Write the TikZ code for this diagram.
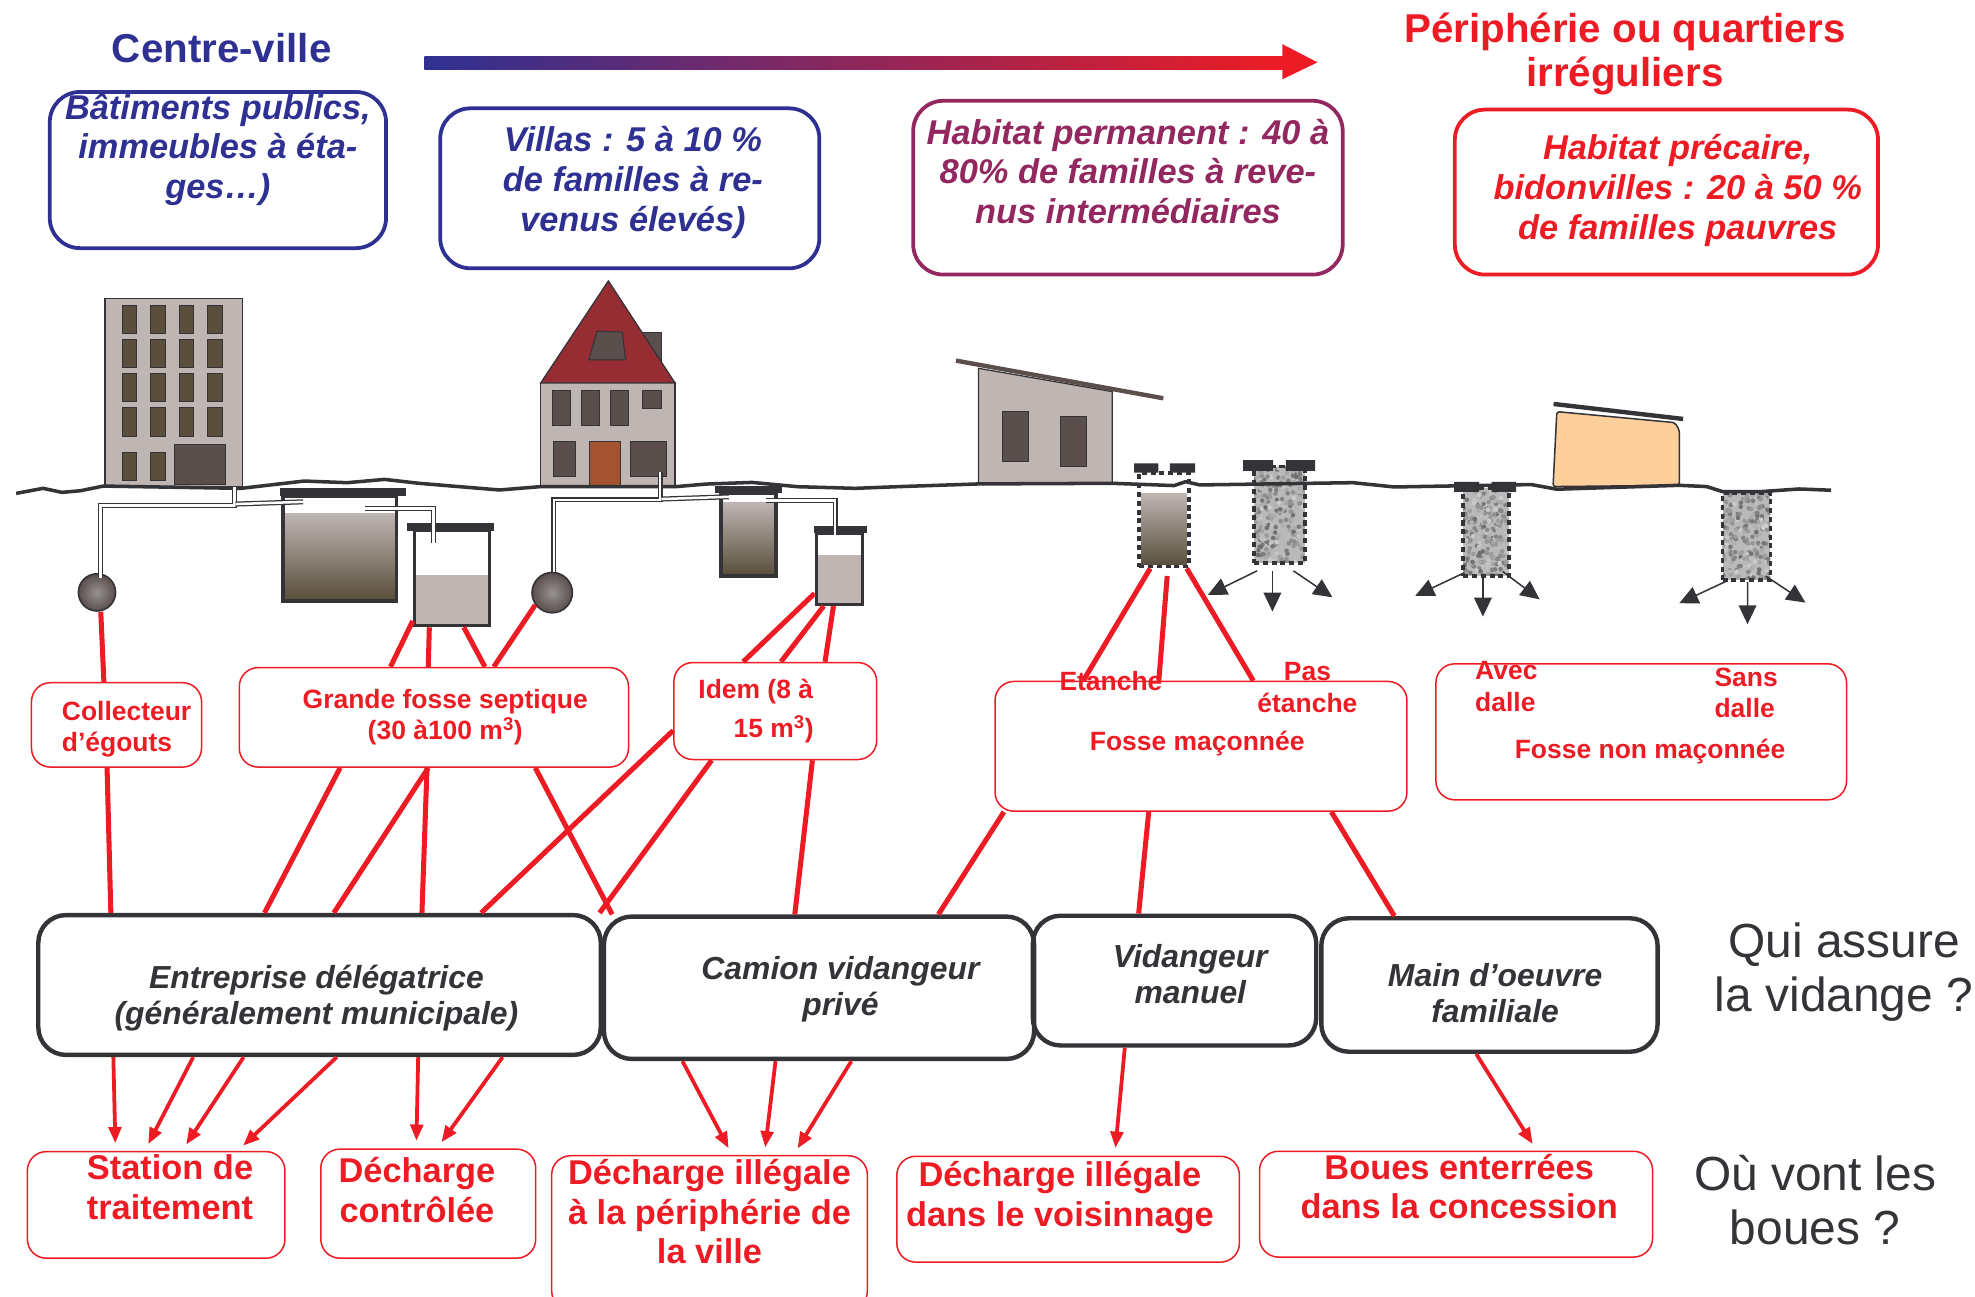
\documentclass[tikz,border=0pt]{standalone}
\usepackage{fontspec}
\setmainfont{Liberation Sans}
\usepackage{xcolor}
\usetikzlibrary{arrows.meta}

\definecolor{townblue}{HTML}{2E3192}
\definecolor{midpurple}{HTML}{93275F}
\definecolor{sludgered}{HTML}{ED1C24}
\definecolor{inkdark}{HTML}{333338}
\definecolor{wallgrey}{HTML}{BFB5B2}
\definecolor{sludgebrown}{HTML}{5A4F3C}
\definecolor{windowgrey}{HTML}{5A4F4C}
\definecolor{hutorange}{HTML}{FDCF9B}
\definecolor{roofred}{HTML}{952D33}
\definecolor{doorbrown}{HTML}{A5522F}

\newcommand{\gravel}[4]{
	\begin{scope}
		\clip (#1,#2) rectangle (#3,#4);
		\fill[gray!55] (#1,#2) rectangle (#3,#4);
		\foreach \i in {1,...,230}{
			\pgfmathsetmacro{\px}{#1+rnd*(#3-#1)}
			\pgfmathsetmacro{\py}{#2+rnd*(#4-#2)}
			\pgfmathsetmacro{\tone}{18+40*rnd}
			\fill[black!\tone!white] (\px,\py) circle (1.8);
		}
	\end{scope}
}

\begin{document}
\begin{tikzpicture}[x=1pt, y=-1pt, inner sep=0pt,
	topbox/.style={draw=#1, text=#1, line width=3pt, rounded corners=24pt, align=center, font=\bfseries\itshape\fontsize{27.3}{31.5}\selectfont},
	labelbox/.style={draw=sludgered, text=sludgered, line width=1.2pt, rounded corners=15pt, align=center, font=\bfseries\fontsize{21}{25}\selectfont},
	sinkbox/.style={labelbox, align=center, font=\bfseries\fontsize{27.3}{31.5}\selectfont},
	actorbox/.style={draw=inkdark, text=inkdark, line width=3.5pt, rounded corners=22pt, align=center, font=\bfseries\itshape\fontsize{25.3}{28.5}\selectfont},
	redtext/.style={text=sludgered, font=\bfseries\fontsize{21}{25}\selectfont},
	asktext/.style={text=inkdark, align=center, font=\fontsize{38}{43}\selectfont},
	redlink/.style={draw=sludgered, line width=4pt},
	redarrow/.style={-{Triangle[length=13pt,width=10pt]}, draw=sludgered, line width=3pt, shorten >=6pt},
	seep/.style={-{Triangle[length=15pt,width=14pt]}, draw=inkdark, line width=1.2pt},
	pipe/.style={draw=inkdark, line width=1pt, double=white, double distance=2pt},
	tankwall/.style={draw=inkdark, line width=2.6pt},
	pitwall/.style={draw=inkdark, line width=3pt, dash pattern=on 4pt off 3pt},
	lid/.style={fill=inkdark},
	pane/.style={fill=windowgrey, draw=inkdark, line width=.8pt},
	wall/.style={fill=wallgrey, draw=inkdark, line width=1pt}]

	\useasboundingbox (0,0) rectangle (1568,1029);

	\node[text=townblue, font=\bfseries\fontsize{32}{35}\selectfont] (centre) at (176,38) {Centre-ville};
	\node[text=sludgered, align=center, font=\bfseries\fontsize{32}{35}\selectfont] (peripherie) at (1290,43) {Périphérie ou quartiers\\irréguliers};
	\shade[left color=townblue, right color=sludgered] (337,44.5) rectangle (1020,54.8);
	\fill[sludgered] (1018,35) -- (1046,49.5) -- (1018,63) -- cycle;

	\node[topbox=townblue, minimum width=267, minimum height=124, text depth=38pt] (batiments) at (173,135) {Bâtiments publics,\\immeubles à éta-\\ges…)};
	\node[topbox=townblue, minimum width=301, minimum height=127, text depth=15pt] (villas) at (500,149.5) {\hspace*{5pt}Villas : 5 à 10 \%\\\hspace*{5pt}de familles à re-\\\hspace*{5pt}venus élevés)};
	\node[topbox=midpurple, minimum width=341, minimum height=138, text depth=26pt] (permanent) at (895.5,149) {Habitat permanent : 40 à\\80\% de familles à reve-\\nus intermédiaires};
	\node[topbox=sludgered, minimum width=336, minimum height=131, text depth=8pt] (precaire) at (1323,152.5) {\hspace*{18pt}Habitat précaire,\\\hspace*{18pt}bidonvilles : 20 à 50 \%\\\hspace*{18pt}de familles pauvres};

	\node[wall, minimum width=109, minimum height=149.5] (tower) at (137.85,311.65) {};
	\draw[pane, fill=sludgebrown]
	(97,242.4) rectangle (108.5,264.7) (119.4,242.4) rectangle (131.2,264.7) (142.2,242.4) rectangle (153.6,264.7) (165,242.4) rectangle (176.4,264.7)
	(97,269.4) rectangle (108.5,291.7) (119.4,269.4) rectangle (131.2,291.7) (142.2,269.4) rectangle (153.6,291.7) (165,269.4) rectangle (176.4,291.7)
	(97,296.7) rectangle (108.5,319) (119.4,296.7) rectangle (131.2,319) (142.2,296.7) rectangle (153.6,319) (165,296.7) rectangle (176.4,319)
	(97,323.9) rectangle (108.5,346.2) (119.4,323.9) rectangle (131.2,346.2) (142.2,323.9) rectangle (153.6,346.2) (165,323.9) rectangle (176.4,346.2)
	(97,358.9) rectangle (108.5,381.1) (119.4,358.9) rectangle (131.2,381.1);
	\draw[pane] (138.5,352.5) rectangle (179.1,385);

	\draw[pane] (510.4,263.9) rectangle (525,290);
	\node[wall, minimum width=106.6, minimum height=83] (house) at (482.6,344.9) {};
	\draw[draw=inkdark, fill=roofred, line width=1pt] (483,223) -- (535.9,304) -- (429.3,304) -- cycle;
	\draw[pane] (474,263) -- (494,263.6) -- (496.7,285.8) -- (467.5,285.8) -- cycle;
	\draw[pane] (438.8,310.2) rectangle (453,338) (461.6,310.2) rectangle (475.8,338) (484.9,310.2) rectangle (499,338) (510.4,310.2) rectangle (525,324.2)
	(439.3,350.4) rectangle (457,378.4) (500.4,350.4) rectangle (529.5,378.4);
	\draw[pane, fill=doorbrown] (468,350.7) rectangle (492.6,386.4);

	\fill[wallgrey, draw=inkdark, line width=1pt] (776.8,292.4) -- (883.1,310.9) -- (883.1,384.2) -- (776.8,384.2) -- cycle;
	\draw[windowgrey, line width=3.5pt] (759,286.3) -- (923.6,316.2);
	\draw[pane] (796,326.5) rectangle (816.3,366) (842,330.8) rectangle (862.3,370.4);

	\draw[fill=hutorange, draw=inkdark, line width=1.2pt, rounded corners=2pt] (1236,326.8) -- (1329.6,335.5) -- (1333.2,341.3) -- (1333.2,385.3) -- (1233,386.3) -- cycle;
	\draw[inkdark, line width=3.5pt] (1233.4,320.7) -- (1336.2,332.6);

	\shade[top color=wallgrey, bottom color=sludgebrown] (226.3,407.3) rectangle (313.3,476);
	\fill[wallgrey] (330.3,456.5) rectangle (387.4,495.4);
	\shade[top color=wallgrey, bottom color=sludgebrown] (573.7,398.8) rectangle (614.8,456);
	\fill[wallgrey] (649.3,440.6) rectangle (683.6,478.5);
	\shade[top color=wallgrey, bottom color=sludgebrown] (905.9,391.6) rectangle (942.3,448.5);
	\pgfmathsetseed{7}
	\gravel{995.5}{370.4}{1036}{446.7}
	\gravel{1161.6}{387.6}{1198}{457.2}
	\gravel{1367.6}{391.6}{1405.6}{460.4}

	\node[tankwall, minimum width=90.2, minimum height=83.4] (tanka) at (269.8,435.5) {};
	\node[tankwall, minimum width=59.7, minimum height=75.4] (tankb) at (358.85,459) {};
	\node[tankwall, minimum width=43.7, minimum height=65.6] (tankd) at (594.25,424.5) {};
	\node[tankwall, minimum width=36.9, minimum height=56.4] (tanke) at (666.45,451.6) {};
	\fill[lid] (221.9,387.7) rectangle (322.6,393.8);
	\fill[lid] (323.5,415.5) rectangle (391.9,421.3);
	\fill[lid] (567.3,385.9) rectangle (620.7,391.2);
	\fill[lid] (646.2,417.6) rectangle (688,423.4);

	\node[pitwall, minimum width=39.5, minimum height=74.1] (etanche) at (924.15,412.75) {};
	\node[pitwall, minimum width=40.5, minimum height=76.3] (pita) at (1015.75,408.55) {};
	\node[pitwall, minimum width=36.4, minimum height=69.6] (pitb) at (1179.8,422.4) {};
	\node[pitwall, minimum width=38, minimum height=68.8] (pitc) at (1386.6,426) {};
	\fill[lid] (900.3,367.8) rectangle (919.6,375.2) (928.7,367.8) rectangle (948.9,375.2);
	\fill[lid] (986.9,365.2) rectangle (1010.7,373.9) (1020.8,365.2) rectangle (1044.1,373.9);
	\fill[lid] (1154.5,382.6) rectangle (1174.2,390.6) (1184.3,382.6) rectangle (1203.6,390.6);

	\draw[inkdark, line width=2.8pt] (12.8,391.7) -- (34.2,387.7) -- (49.2,390.9) -- (63.8,389.6) -- (82,385.9) -- (191.4,387.7) -- (241.5,381.9) -- (275.7,383.2) -- (305.3,380.6) -- (332.7,383.7) -- (396.5,389) -- (428.4,386.4) -- (535.9,386.4) -- (560.5,384.3) -- (597,383) -- (633.4,386.4) -- (679,387.7) -- (714.5,386.3) -- (776.8,384.2) -- (883.1,383.7) -- (932.2,385.5) -- (941.3,382.4) -- (952.5,385) -- (1074,383.2) -- (1106.9,386.6) -- (1215.7,384.7) -- (1236,388.4) -- (1333.2,385.3) -- (1354.9,386.3) -- (1367.6,390.3) -- (1398,390.3) -- (1428.4,388.2) -- (1453.7,389.2);

	\node[circle, draw=inkdark, line width=1.3pt, inner color=gray!65!wallgrey, outer color=windowgrey, minimum size=29.5] (spherea) at (77,470.3) {};
	\node[circle, draw=inkdark, line width=1.3pt, inner color=gray!65!wallgrey, outer color=windowgrey, minimum size=32] (sphereb) at (438.4,470.5) {};

	\draw[pipe] ([xshift=48.15pt]tower.south) -- ++(0,14.6) -| ([xshift=2.7pt,yshift=-4pt]spherea.north);
	\draw[pipe] ([xshift=49pt,yshift=-13.3pt]tower.south) -- ([xshift=-29.2pt,yshift=-5.9pt]tanka.north);
	\draw[pipe] ([xshift=19.6pt,yshift=-11.2pt]tanka.north) -| ([xshift=-14.85pt,yshift=-11.4pt]tankb.north);
	\draw[pipe] ([xshift=41.4pt,yshift=11.9pt]house.south) -- ++(0,21.9) -| ([xshift=1.4pt]sphereb.north);
	\draw[pipe] ([xshift=42.4pt,yshift=-9.3pt]house.south) -- ([xshift=-15.55pt,yshift=-4pt]tankd.north);
	\draw[pipe] ([xshift=14.15pt,yshift=-6.9pt]tankd.north) -| ([xshift=-3.45pt,yshift=-2.6pt]tanke.north);

	\coordinate (seepa1) at (959,472.3);
	\coordinate (seepa2) at (1010.2,485.5);
	\coordinate (seepa3) at (1057.8,474.2);
	\coordinate (seepb1) at (1123.6,473.1);
	\coordinate (seepb2) at (1177.3,489.5);
	\coordinate (seepb3) at (1222.3,475.8);
	\coordinate (seepc1) at (1333.2,478.9);
	\coordinate (seepc2) at (1387.4,495.6);
	\coordinate (seepc3) at (1433.4,478.4);
	\draw[seep] ([xshift=-17.75pt,yshift=-5pt]pita.south) -- (seepa1);
	\draw[seep] ([xshift=-5.55pt,yshift=-5pt]pita.south) -- (seepa2);
	\draw[seep] ([xshift=11.15pt,yshift=-5pt]pita.south) -- (seepa3);
	\draw[seep] ([xshift=-17.2pt,yshift=4pt]pitb.south) -- (seepb1);
	\draw[seep] ([xshift=-2.5pt,yshift=2pt]pitb.south) -- (seepb2);
	\draw[seep] ([xshift=13.2pt,yshift=5pt]pitb.south) -- (seepb3);
	\draw[seep] ([xshift=-14.9pt,yshift=1pt]pitc.south) -- (seepc1);
	\draw[seep] ([xshift=.8pt]pitc.south) -- (seepc2);
	\draw[seep] ([xshift=15.4pt,yshift=4.5pt]pitc.south) -- (seepc3);

	\node[labelbox, align=left, minimum width=135, minimum height=67, text height=46pt, font=\bfseries\fontsize{21}{24}\selectfont] (collecteur) at (92.5,575.5) {\hspace*{16pt}Collecteur\\\hspace*{16pt}d’égouts};
	\node[labelbox, minimum width=309, minimum height=79] (grande) at (344.5,569.5) {\hspace*{18pt}Grande fosse septique\\\hspace*{18pt}(30 à100 m\textsuperscript{3})};
	\node[labelbox, align=left, minimum width=161, minimum height=77, font=\bfseries\fontsize{21}{31}\selectfont] (idem) at (615.5,564.5) {Idem (8 à\rule{31pt}{0pt}\\\hspace*{28pt}15 m\textsuperscript{3})};
	\node[labelbox, minimum width=327, minimum height=103, text depth=9pt] (fossema) at (953.5,592.5) {Fosse maçonnée\rule{6pt}{0pt}};
	\node[labelbox, minimum width=326, minimum height=108, text height=47pt] (fossenon) at (1303,581) {\hspace*{14pt}Fosse non maçonnée};

	\node[redtext] (etanchelabel) at (882,541) {Etanche};
	\node[redtext, align=center] (pasetanche) at (1038,546) {Pas\\étanche};
	\node[redtext, align=left, anchor=west] (avec) at (1171,545) {Avec\\dalle};
	\node[redtext, align=left, anchor=west] (sans) at (1361,550) {Sans\\dalle};

	\node[actorbox, minimum width=446.6, minimum height=111, text height=68pt] (entreprise) at (253.7,782) {Entreprise délégatrice\rule{5pt}{0pt}\\(généralement municipale)\rule{5pt}{0pt}};
	\node[actorbox, minimum width=341.5, minimum height=113, text height=49pt] (camion) at (650.25,784.2) {\hspace*{34pt}Camion vidangeur\\\hspace*{34pt}privé};
	\node[actorbox, minimum width=225, minimum height=103, text depth=10pt] (vidangeur) at (932.5,778.5) {\hspace*{25pt}Vidangeur\\\hspace*{25pt}manuel};
	\node[actorbox, minimum width=267, minimum height=106, text height=60pt] (mainoeuvre) at (1182.5,782) {\hspace*{9pt}Main d’oeuvre\\\hspace*{9pt}familiale};

	\node[sinkbox, minimum width=204.5, minimum height=84.6, text depth=28pt] (station) at (124,956.6) {\hspace*{22pt}Station de\\\hspace*{22pt}traitement};
	\node[sinkbox, minimum width=170.6, minimum height=86.5, text depth=22pt] (controlee) at (340,955.6) {Décharge\rule{18pt}{0pt}\\contrôlée\rule{18pt}{0pt}};
	\node[sinkbox, minimum width=250.6, minimum height=122.5, text depth=34pt] (illegale) at (563.3,978.8) {Décharge illégale\\à la périphérie de\\la ville};
	\node[sinkbox, minimum width=272, minimum height=84, text depth=24pt] (voisinage) at (848,960) {Décharge illégale\rule{13pt}{0pt}\\dans le voisinnage\rule{13pt}{0pt}};
	\node[sinkbox, minimum width=312, minimum height=84, text depth=28pt] (boues) at (1156,956) {\hspace*{5pt}Boues enterrées\\\hspace*{5pt}dans la concession};

	\node[asktext] (qui) at (1464,772) {Qui assure\\la vidange ?};
	\node[asktext] (ou) at (1441,953) {Où vont les\\boues ?};

	\draw[redlink] ([xshift=3pt]spherea.south) -- ([xshift=-10pt]collecteur.north);
	\draw[redlink] ([yshift=5pt]tankb.south west) -- ([xshift=-34.5pt]grande.north);
	\draw[redlink] ([xshift=-18pt]tankb.south) -- ([xshift=-4.5pt]grande.north);
	\draw[redlink] ([xshift=9.35pt]tankb.south) -- ([xshift=40.5pt]grande.north);
	\draw[redlink] (sphereb.216) -- ([xshift=47.5pt]grande.north);
	\draw[redlink] ([yshift=10pt]tanke.south west) -- ([xshift=-25.5pt]idem.north);
	\draw[redlink] ([xshift=-12.45pt]tanke.south) -- ([xshift=4.5pt]idem.north);
	\draw[redlink] ([xshift=-4.75pt]tanke.south) -- ([xshift=39.5pt]idem.north);
	\draw[redlink] ([xshift=-11pt]etanche.south) -- ([xshift=-93.5pt]fossema.north);
	\draw[redlink, shorten <=6pt] ([xshift=3pt]etanche.south) -- ([xshift=-33.5pt]fossema.north);
	\draw[redlink] ([xshift=18pt]etanche.south) -- ([xshift=41.5pt]fossema.north);

	\draw[redlink] ([xshift=-7.5pt]collecteur.south) -- ([xshift=-165.7pt]entreprise.north);
	\draw[redlink] ([xshift=-74.5pt]grande.south) -- ([xshift=-43.7pt]entreprise.north);
	\draw[redlink] ([xshift=-4.5pt]grande.south) -- ([xshift=11.3pt]entreprise.north);
	\draw[redlink] ([xshift=-5.5pt]grande.south) -- ([xshift=81.3pt]entreprise.north);
	\draw[redlink] ([xshift=80.5pt]grande.south) -- ([xshift=-164.25pt]camion.north);
	\draw[redlink] ([yshift=-15.5pt]idem.west) -- ([xshift=128.3pt]entreprise.north);
	\draw[redlink] ([xshift=-50.5pt]idem.south) -- ([xshift=222.3pt]entreprise.north);
	\draw[redlink] ([xshift=29.5pt]idem.south) -- ([xshift=-19.25pt]camion.north);
	\draw[redlink] ([xshift=-156.5pt]fossema.south) -- ([xshift=94.75pt]camion.north);
	\draw[redlink] ([xshift=-41.5pt]fossema.south) -- ([xshift=-28.5pt]vidangeur.north);
	\draw[redlink] ([xshift=103.5pt]fossema.south) -- ([xshift=-75.5pt]mainoeuvre.north);

	\draw[redarrow] ([xshift=-163.7pt]entreprise.south) -- ([xshift=-32.3pt]station.north);
	\draw[redarrow] ([xshift=-100.3pt]entreprise.south) -- ([xshift=-9.1pt]station.north);
	\draw[redarrow] ([xshift=-60.3pt]entreprise.south) -- ([xshift=20.5pt]station.north);
	\draw[redarrow] ([xshift=13.6pt]entreprise.south) -- ([xshift=64.6pt]station.north);
	\draw[redarrow] ([xshift=78.3pt]entreprise.south) -- ([xshift=-9.5pt]controlee.north);
	\draw[redarrow] ([xshift=145.3pt]entreprise.south) -- ([xshift=7pt]controlee.north);
	\draw[redarrow] ([xshift=-108.45pt]camion.south) -- ([xshift=18pt]illegale.north);
	\draw[redarrow] ([xshift=-34.55pt]camion.south) -- ([xshift=43.5pt]illegale.north);
	\draw[redarrow] ([xshift=25.65pt]camion.south) -- ([xshift=66.7pt]illegale.north);
	\draw[redarrow] ([xshift=-39.5pt]vidangeur.south) -- ([xshift=37pt]voisinage.north);
	\draw[redarrow] ([xshift=-10.5pt]mainoeuvre.south) -- ([xshift=64pt]boues.north);
\end{tikzpicture}
\end{document}
